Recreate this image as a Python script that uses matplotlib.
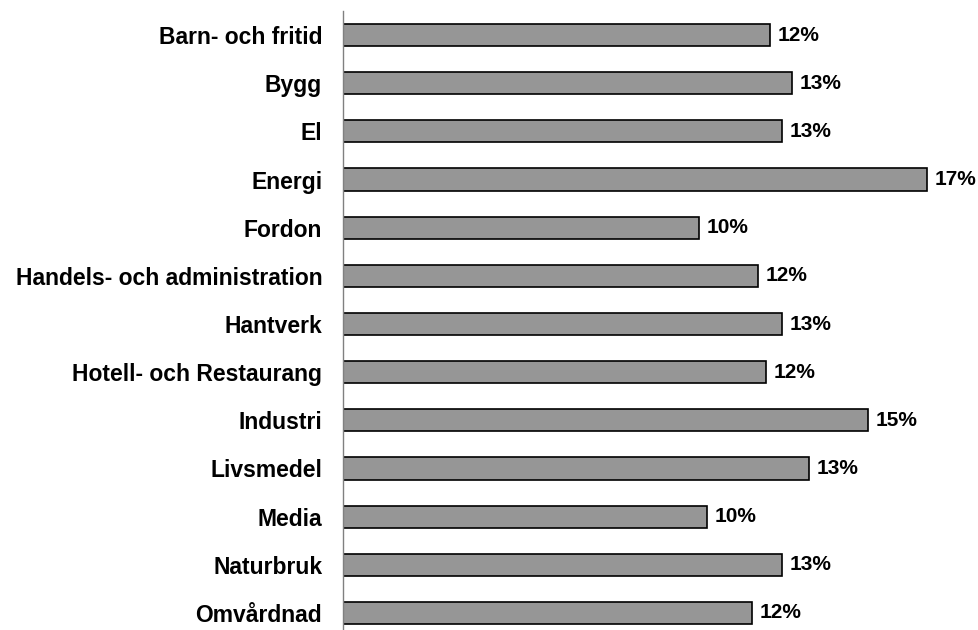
import matplotlib.pyplot as plt

# Andel per program (läst från bilden)
program = ['Barn- och fritid', 'Bygg', 'El', 'Energi', 'Fordon',
           'Handels- och administration', 'Hantverk', 'Hotell- och Restaurang',
           'Industri', 'Livsmedel', 'Media', 'Naturbruk', 'Omvårdnad']
andel = [12.23, 12.87, 12.58, 16.73, 10.20, 11.89, 12.58, 12.12,
         15.04, 13.35, 10.43, 12.58, 11.72]
etiketter = ['12%', '13%', '13%', '17%', '10%', '12%', '13%', '12%',
             '15%', '13%', '10%', '13%', '12%']

plt.rcParams['font.family'] = ['Liberation Sans', 'DejaVu Sans']

fig = plt.figure(figsize=(9.79, 6.30), dpi=100)
ax = fig.add_axes([343 / 979, 1 - 637 / 630, 18 * 34.9 / 979, 626 / 630])

pos = list(range(len(program)))
ax.barh(pos, andel, height=0.46, color='#969696', edgecolor='black', linewidth=1.2)

for p, v, t in zip(pos, andel, etiketter):
    ax.annotate(t, (v, p), xytext=(5.5, 0), textcoords='offset points',
                va='center', ha='left', fontsize=15, fontweight='bold')

ax.set_xlim(0, 18)
ax.set_ylim(len(program) - 0.5, -0.5)
ax.set_yticks(pos)
ax.set_yticklabels(program, fontsize=16.5, fontweight='bold')
ax.tick_params(axis='y', length=0, pad=15)
ax.set_xticks([])

for s in ['top', 'right', 'bottom']:
    ax.spines[s].set_visible(False)
ax.spines['left'].set_color('#808080')
ax.spines['left'].set_linewidth(1.0)

fig.savefig('out.png', dpi=100)
